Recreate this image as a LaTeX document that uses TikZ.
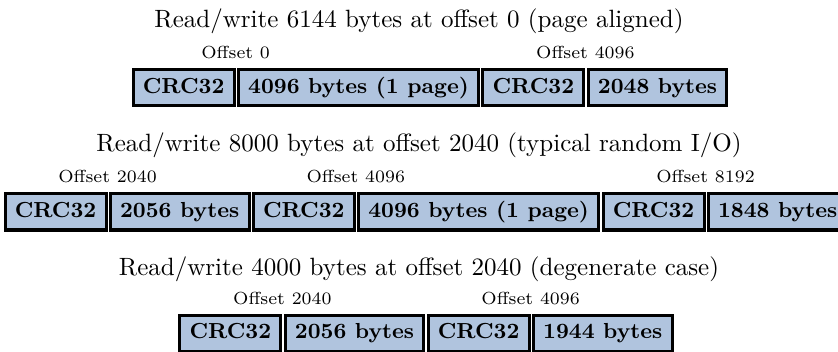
\documentclass[tikz,border=0pt]{standalone}
\usepackage{fontspec}
\definecolor{blockfill}{HTML}{B0C4DE}
\tikzset{
  field/.style={draw=black, fill=blockfill, line width=1.2pt, inner xsep=3.9pt,
    minimum height=14.4pt, text height=6.2pt, text depth=1.8pt,
    font=\fontsize{8.7pt}{10pt}\selectfont\bfseries},
  blockrow/.style={column sep=0.5pt, inner sep=0pt},
  heading/.style={font=\normalsize, anchor=base, inner sep=0pt},
  offsetlabel/.style={font=\scriptsize, anchor=base, inner sep=0pt},
}
\begin{document}
\begin{tikzpicture}[x=0.4pt, y=-0.4pt]
  \useasboundingbox (0,0) rectangle (838,352);

  % Page-aligned access
  \node[heading] (t1) at (419,28) {Read/write 6144 bytes at offset 0 (page aligned)};
  \matrix (r1) [blockrow] at (430,88) {
    \node[field] (a1) {CRC32}; &
    \node[field] (a2) {4096 bytes (1 page)}; &
    \node[field] (a3) {CRC32}; &
    \node[field] (a4) {2048 bytes}; \\
  };
  \path (a1.east) ++(0,-29) node[offsetlabel] (oa1) {Offset 0};
  \path (a3.east) ++(0,-29) node[offsetlabel] (oa2) {Offset 4096};

  % Unaligned access spanning three blocks
  \node[heading] (t2) at (419,152) {Read/write 8000 bytes at offset 2040 (typical random I/O)};
  \matrix (r2) [blockrow] at (426,212) {
    \node[field] (b1) {CRC32}; &
    \node[field] (b2) {2056 bytes}; &
    \node[field] (b3) {CRC32}; &
    \node[field] (b4) {4096 bytes (1 page)}; &
    \node[field] (b5) {CRC32}; &
    \node[field] (b6) {1848 bytes}; \\
  };
  \path (b1.east) ++(0,-29) node[offsetlabel] (ob1) {Offset 2040};
  \path (b3.east) ++(0,-29) node[offsetlabel] (ob2) {Offset 4096};
  \path (b5.east) ++(0,-29) node[offsetlabel] (ob3) {Offset 8192};

  % Short unaligned access
  \node[heading] (t3) at (419,276) {Read/write 4000 bytes at offset 2040 (degenerate case)};
  \matrix (r3) [blockrow] at (426,333) {
    \node[field] (c1) {CRC32}; &
    \node[field] (c2) {2056 bytes}; &
    \node[field] (c3) {CRC32}; &
    \node[field] (c4) {1944 bytes}; \\
  };
  \path (c1.east) ++(0,-29) node[offsetlabel] (oc1) {Offset 2040};
  \path (c3.east) ++(0,-29) node[offsetlabel] (oc2) {Offset 4096};
\end{tikzpicture}
\end{document}
